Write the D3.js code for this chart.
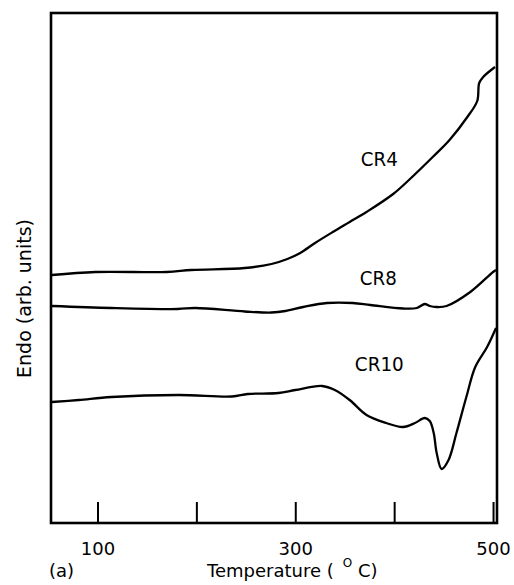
<!DOCTYPE html>
<html>
<head>
<meta charset="utf-8">
<script src="https://cdn.jsdelivr.net/npm/d3@7/dist/d3.min.js"></script>
<style>
  html, body { margin: 0; padding: 0; background: #fff; }
  svg { display: block; }
  text { font-family: "DejaVu Sans", sans-serif; fill: #000; }
</style>
</head>
<body>
<svg id="chart" width="514" height="585"></svg>
<script>
// ---- data ----
const xDomain = [53, 504];          // temperature, °C
const yDomain = [0, 51];            // arbitrary units
const tickValues = [100, 200, 300, 400, 500];
const tickLabels = ["100", "", "300", "", "500"];

const cr4T = [54, 98, 170, 195, 249, 276, 292, 305, 320, 338, 355, 372, 399, 416, 439, 456, 474, 484, 486, 490, 502];
const cr4V = [24.8, 25.1, 25.1, 25.3, 25.5, 25.9, 26.4, 27.0, 28.0, 29.1, 30.1, 31.1, 32.9, 34.4, 36.6, 38.3, 40.6, 42.2, 44.0, 44.6, 45.6];

const cr8T = [54, 114, 181, 199, 249, 276, 290, 308, 332, 358, 376, 409, 423, 431, 436, 443, 453, 477, 500, 503];
const cr8V = [21.7, 21.5, 21.4, 21.5, 21.15, 21.05, 21.2, 21.6, 22.0, 22.0, 21.8, 21.45, 21.5, 21.9, 21.7, 21.6, 21.7, 23.1, 25.1, 25.3];

const cr10T = [54, 81, 114, 182, 236, 252, 283, 300, 327, 340, 355, 372, 392, 409, 421, 431, 436, 440, 443, 448, 455, 463, 473, 482, 494, 503];
const cr10V = [12.1, 12.3, 12.6, 12.8, 12.65, 12.9, 13.0, 13.3, 13.7, 13.3, 12.3, 10.8, 10.0, 9.6, 10.0, 10.5, 10.2, 9.0, 7.0, 5.4, 6.3, 9.0, 12.6, 15.6, 17.6, 19.5];

const seriesNames = ["CR4", "CR8", "CR10"];
const labelT = [385, 384, 385];
const labelV = [35.7, 23.8, 15.2];

const xTitle = "Temperature (";
const xTitleSup = "O";
const xTitleEnd = " C)";
const yTitle = "Endo (arb. units)";
const panelLabel = "(a)";

// ---- drawing ----
const svg = d3.select("#chart");
const x = d3.scaleLinear().domain(xDomain).range([51, 497]);
const y = d3.scaleLinear().domain(yDomain).range([523, 13]);

const series = [
  cr4T.map((t, i) => [t, cr4V[i]]),
  cr8T.map((t, i) => [t, cr8V[i]]),
  cr10T.map((t, i) => [t, cr10V[i]])
];

const line = d3.line()
  .x(d => x(d[0]))
  .y(d => y(d[1]))
  .curve(d3.curveCatmullRom.alpha(0.5));

svg.append("g").selectAll("path")
  .data(series)
  .join("path")
  .attr("d", line)
  .attr("fill", "none")
  .attr("stroke", "#000")
  .attr("stroke-width", 2.3)
  .attr("stroke-linejoin", "round");

// frame
svg.append("rect")
  .attr("x", x.range()[0]).attr("y", y.range()[1])
  .attr("width", x.range()[1] - x.range()[0])
  .attr("height", y.range()[0] - y.range()[1])
  .attr("fill", "none").attr("stroke", "#000").attr("stroke-width", 2.6);

// bottom axis with inward ticks
const xAxis = d3.axisBottom(x)
  .tickValues(tickValues)
  .tickFormat((d, i) => tickLabels[i])
  .tickSizeInner(-21)
  .tickSizeOuter(0)
  .tickPadding(19);

const gx = svg.append("g")
  .attr("transform", `translate(0,${y.range()[0]})`)
  .call(xAxis);
gx.select(".domain").remove();
gx.selectAll(".tick line").attr("stroke", "#000").attr("stroke-width", 2);
gx.selectAll(".tick text")
  .attr("font-family", "DejaVu Sans, sans-serif")
  .attr("font-size", 18)
  .attr("fill", "#000");

// series labels
svg.append("g").selectAll("text")
  .data(seriesNames)
  .join("text")
  .attr("x", (d, i) => x(labelT[i]))
  .attr("y", (d, i) => y(labelV[i]))
  .attr("text-anchor", "middle")
  .attr("font-size", 20)
  .attr("textLength", (d, i) => [37, 37, 49][i])
  .attr("lengthAdjust", "spacingAndGlyphs")
  .text(d => d);

// x title
const xt = svg.append("text")
  .attr("x", 207).attr("y", 577)
  .attr("font-size", 18);
xt.append("tspan").text(xTitle);
xt.append("tspan").attr("dx", 9).attr("dy", -10).attr("font-size", 12).text(xTitleSup);
xt.append("tspan").attr("dy", 10).text(xTitleEnd);

// panel label
svg.append("text")
  .attr("x", 49).attr("y", 577)
  .attr("font-size", 18)
  .text(panelLabel);

// y title
svg.append("text")
  .attr("transform", "translate(31,298.5) rotate(-90)")
  .attr("text-anchor", "middle")
  .attr("font-size", 19)
  .text(yTitle);
</script>
</body>
</html>
